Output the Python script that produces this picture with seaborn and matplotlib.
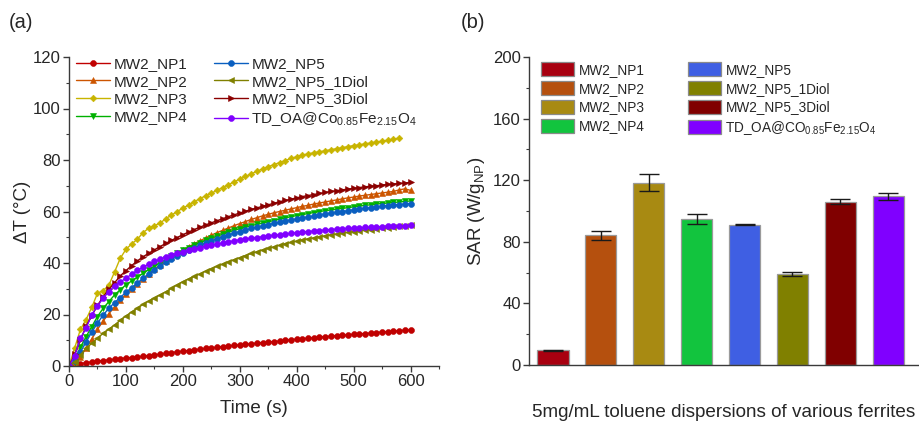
import numpy as np
import pandas as pd
import matplotlib
matplotlib.use("Agg")
import matplotlib.pyplot as plt
import seaborn as sns
from matplotlib.ticker import MultipleLocator
from matplotlib.patches import Patch

# ---------------- data ----------------
time_s = list(range(0, 610, 10))

np1 = [0, 0.5, 0.9, 1.3, 1.6, 1.9, 2.1, 2.4, 2.6, 2.9, 3.1, 3.3, 3.5, 3.8, 4.0, 4.3, 4.6, 4.9, 5.2, 5.5,
       5.8, 6.0, 6.3, 6.5, 6.8, 7.0, 7.3, 7.5, 7.8, 8.0, 8.2, 8.4, 8.6, 8.9, 9.1, 9.3, 9.5, 9.7, 10.0, 10.2,
       10.4, 10.6, 10.8, 11.0, 11.2, 11.4, 11.6, 11.8, 11.9, 12.1, 12.3, 12.5, 12.6, 12.8, 13.0, 13.2, 13.3,
       13.5, 13.7, 13.9, 14.0]
np2 = [0, 0.8, 3.4, 7.0, 10.5, 14.2, 17.5, 20.3, 23.0, 25.6, 27.8, 30.0, 32.0, 33.9, 35.8, 37.6, 39.3, 40.8,
       42.3, 43.7, 45.0, 46.3, 47.5, 48.6, 49.7, 50.8, 51.8, 52.7, 53.6, 54.5, 55.3, 56.1, 56.9, 57.6, 58.3,
       58.9, 59.5, 60.0, 60.5, 61.0, 61.5, 62.0, 62.4, 62.9, 63.3, 63.7, 64.1, 64.5, 64.9, 65.3, 65.6, 66.0,
       66.3, 66.6, 66.9, 67.2, 67.5, 67.8, 68.4, 68.8, 68.2]
np3 = [0, 7.0, 14.2, 18.0, 22.8, 28.2, 29.3, 31.4, 36.5, 41.8, 45.3, 47.4, 49.2, 51.8, 53.5, 54.5, 55.5, 57.2,
       58.6, 60.0, 61.3, 62.5, 63.8, 65.0, 66.1, 67.1, 68.2, 69.3, 70.4, 71.5, 72.6, 73.6, 74.6, 75.6, 76.5,
       77.4, 78.2, 79.0, 79.8, 80.6, 81.3, 81.9, 82.4, 82.8, 83.2, 83.6, 84.0, 84.4, 84.8, 85.2, 85.6, 85.9,
       86.3, 86.6, 87.0, 87.3, 87.7, 88.1, 88.5]
np4 = [0, 1.7, 7.3, 11.4, 15.3, 19.2, 22.4, 25.0, 27.6, 29.6, 31.5, 33.0, 34.5, 36.0, 37.4, 38.8, 40.1, 41.4,
       42.6, 43.8, 45.0, 46.0, 47.0, 47.9, 48.8, 49.6, 50.4, 51.2, 52.0, 52.7, 53.3, 53.9, 54.5, 55.0, 55.5,
       56.0, 56.5, 57.0, 57.5, 58.0, 58.4, 58.8, 59.2, 59.6, 60.0, 60.3, 60.6, 60.9, 61.2, 61.5, 61.8, 62.1,
       62.4, 62.6, 62.9, 63.1, 63.3, 63.5, 63.7, 63.9, 64.1]
np5 = [0, 2.0, 5.4, 9.3, 13.2, 16.6, 19.8, 22.4, 24.6, 26.6, 28.6, 30.4, 32.2, 34.0, 35.7, 37.4, 38.9, 40.3,
       41.7, 42.9, 44.0, 45.0, 46.0, 46.9, 47.8, 48.6, 49.4, 50.2, 50.9, 51.6, 52.2, 52.8, 53.4, 53.9, 54.4,
       54.9, 55.4, 55.8, 56.3, 56.7, 57.1, 57.5, 57.9, 58.3, 58.7, 59.0, 59.4, 59.7, 60.0, 60.3, 60.6, 60.9,
       61.2, 61.5, 61.8, 62.0, 62.3, 62.5, 62.7, 62.9, 63.1]
np5_1diol = [0, 1.7, 4.3, 6.9, 8.8, 10.8, 12.7, 14.3, 15.9, 17.8, 19.4, 21.0, 22.5, 23.9, 25.2, 26.4, 27.6,
             28.8, 30.2, 31.5, 32.8, 33.8, 34.8, 35.8, 36.8, 37.8, 38.7, 39.6, 40.5, 41.3, 42.1, 42.9, 43.7,
             44.4, 45.1, 45.7, 46.3, 46.9, 47.5, 48.0, 48.5, 49.0, 49.4, 49.8, 50.2, 50.6, 51.0, 51.3, 51.6,
             51.9, 52.2, 52.5, 52.8, 53.0, 53.3, 53.5, 53.7, 54.0, 54.2, 54.4, 54.6]
np5_3diol = [0, 4.5, 10.0, 15.5, 19.5, 23.5, 26.9, 29.8, 32.3, 35.0, 37.0, 39.0, 40.8, 42.4, 43.8, 45.1, 46.4,
             47.6, 48.8, 49.9, 51.0, 52.0, 53.0, 53.9, 54.8, 55.6, 56.4, 57.2, 58.0, 58.7, 59.4, 60.1, 60.8,
             61.4, 62.0, 62.6, 63.2, 63.8, 64.3, 64.8, 65.3, 65.8, 66.2, 66.6, 67.0, 67.4, 67.8, 68.1, 68.4,
             68.7, 69.0, 69.3, 69.6, 69.8, 70.0, 70.3, 70.5, 70.7, 70.9, 71.1, 71.3]
td_oa = [0, 4.0, 10.8, 14.6, 20.0, 23.3, 26.3, 28.9, 31.1, 32.6, 34.1, 35.6, 37.1, 38.4, 39.6, 40.6, 41.5,
         42.3, 43.0, 43.7, 44.4, 45.0, 45.5, 46.0, 46.5, 47.0, 47.4, 47.8, 48.2, 48.6, 49.0, 49.3, 49.6, 49.9,
         50.2, 50.5, 50.8, 51.0, 51.3, 51.5, 51.8, 52.0, 52.2, 52.4, 52.6, 52.8, 53.0, 53.1, 53.3, 53.4, 53.6,
         53.7, 53.8, 53.9, 54.0, 54.1, 54.2, 54.3, 54.4, 54.5, 54.6]

line_labels = ["MW2_NP1", "MW2_NP2", "MW2_NP3", "MW2_NP4", "MW2_NP5", "MW2_NP5_1Diol",
               "MW2_NP5_3Diol", r"TD_OA@Co$_{\mathrm{0.85}}$Fe$_{\mathrm{2.15}}$O$_{\mathrm{4}}$"]
bar_labels = ["MW2_NP1", "MW2_NP2", "MW2_NP3", "MW2_NP4", "MW2_NP5", "MW2_NP5_1Diol",
              "MW2_NP5_3Diol", r"TD_OA@CO$_{\mathrm{0.85}}$Fe$_{\mathrm{2.15}}$O$_{\mathrm{4}}$"]
sar_values = [9.5, 84.2, 118.5, 95.0, 91.1, 59.1, 106.1, 109.6]
sar_errors = [0.4, 3.1, 5.4, 3.3, 0.5, 1.4, 1.6, 2.2]

line_series = [np1, np2, np3, np4, np5, np5_1diol, np5_3diol, td_oa]
line_colors = ["#C00000", "#CC5500", "#C8B400", "#00B000", "#0A5FC0", "#808000", "#8B0000", "#8000FF"]
line_markers = ["o", "^", "D", "v", "o", "<", ">", "o"]
bar_colors = ["#A80010", "#B5500E", "#A88A12", "#12C43E", "#3F5FE3", "#808000", "#800000", "#8000FF"]

# ---------------- style ----------------
sns.set_style("ticks")
plt.rcParams["font.family"] = ["Liberation Sans", "DejaVu Sans"]
plt.rcParams["mathtext.fontset"] = "custom"
plt.rcParams["mathtext.rm"] = "Liberation Sans"
plt.rcParams["mathtext.it"] = "Liberation Sans:italic"
plt.rcParams["mathtext.bf"] = "Liberation Sans:bold"

W, H = 919, 421
fig = plt.figure(figsize=(W / 100, H / 100), dpi=100)

def fx(px):
    return px / W

def fy(py):
    return 1 - py / H

axL = fig.add_axes([fx(69), fy(366), fx(439) - fx(69), fy(57) - fy(366)])
axR = fig.add_axes([fx(529), fy(365), fx(918) - fx(529), fy(57) - fy(365)])

spine_col = "#3a3a3a"

# ---------------- left: heating curves ----------------
for vals, lab, col, mk in zip(line_series, line_labels, line_colors, line_markers):
    tt = time_s[:len(vals)]
    sns.lineplot(x=tt, y=vals, ax=axL, color=col, marker=mk, markersize=4.3 if mk != "D" else 3.4,
                 markeredgewidth=0.4, markeredgecolor=col, linewidth=1.0, label=lab)

axL.set_ylim(0, 120)
axL.set_xticks(list(range(0, 700, 100)))
axL.set_xticklabels([str(v) for v in range(0, 700, 100)])
axL.xaxis.set_minor_locator(MultipleLocator(50))
axL.yaxis.set_major_locator(MultipleLocator(20))
axL.yaxis.set_minor_locator(MultipleLocator(10))
axL.set_xlim(0, 650)
axL.set_xlabel("Time (s)", fontsize=13.5, labelpad=8)
axL.set_ylabel("ΔT (°C)", fontsize=13.5, labelpad=1)

hL, lL = axL.get_legend_handles_labels()
axL.legend(hL, lL, ncol=2, loc="upper left", bbox_to_anchor=(fx(76), fy(57)),
           bbox_transform=fig.transFigure, frameon=False, fontsize=11, handlelength=2.2,
           handletextpad=0.25, columnspacing=1.75, labelspacing=0.24, borderpad=0, borderaxespad=0)

# ---------------- right: SAR bars ----------------
sns.barplot(x=bar_labels, y=sar_values, hue=bar_labels, palette=bar_colors, ax=axR, width=0.65,
            saturation=1, edgecolor="#9a9a9a", linewidth=0.9, legend=False, dodge=False,
            order=bar_labels, hue_order=bar_labels)
axR.errorbar(x=list(range(len(sar_values))), y=sar_values, yerr=sar_errors, fmt="none",
             ecolor="#1a1a1a", elinewidth=1.0, capsize=7.5, capthick=1.0)
axR.set_xlim(-0.5, 7.62)
axR.set_ylim(0, 200)
axR.yaxis.set_major_locator(MultipleLocator(40))
axR.yaxis.set_minor_locator(MultipleLocator(20))
axR.set_xticks([])
axR.set_xlabel("5mg/mL toluene dispersions of various ferrites", fontsize=13.6, labelpad=28)
axR.set_ylabel(r"SAR (W/g$_{\mathrm{NP}}$)", fontsize=13.5, labelpad=4)

handlesR = [Patch(facecolor=c, edgecolor="#8a8a8a", linewidth=0.9) for c in bar_colors]
axR.legend(handlesR, bar_labels, ncol=2, loc="upper left", bbox_to_anchor=(fx(541), fy(62)),
           bbox_transform=fig.transFigure, frameon=False, fontsize=9.8, handlelength=2.4,
           handleheight=1.25, handletextpad=0.35, columnspacing=3.2, labelspacing=0.3,
           borderpad=0, borderaxespad=0)

for ax in (axL, axR):
    for s in ("top", "right"):
        ax.spines[s].set_visible(False)
    for s in ("left", "bottom"):
        ax.spines[s].set_color(spine_col)
        ax.spines[s].set_linewidth(1.0)
    ax.tick_params(which="major", length=4, width=1.0, color=spine_col, labelsize=12, pad=2)
    ax.tick_params(which="minor", length=2.5, width=0.8, color=spine_col)
    ax.set_facecolor("white")

axR.tick_params(axis="x", which="both", length=0)

fig.text(fx(9), fy(23), "(a)", fontsize=14.5, va="center", ha="left")
fig.text(fx(461), fy(23), "(b)", fontsize=14.5, va="center", ha="left")

fig.savefig("out.png", dpi=100, facecolor="white")
